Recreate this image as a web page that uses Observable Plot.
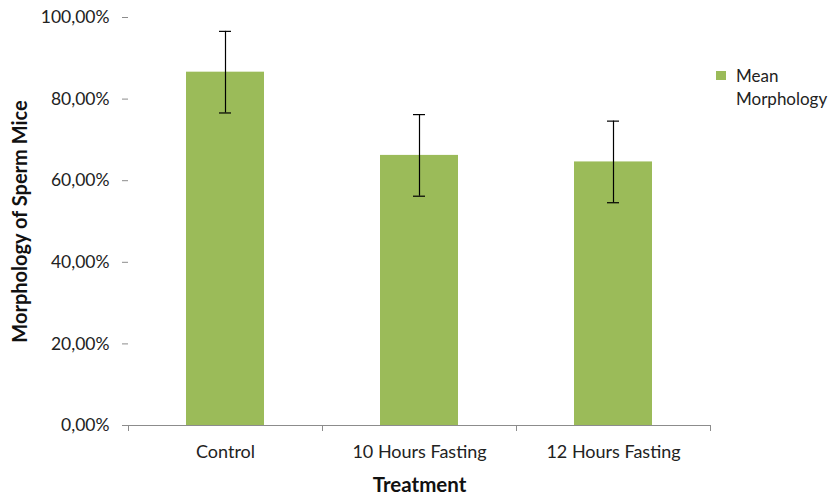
<!DOCTYPE html>
<html>
<head>
<meta charset="utf-8">
<script src="https://cdn.jsdelivr.net/npm/d3@7"></script>
<script src="https://cdn.jsdelivr.net/npm/@observablehq/plot@0.6"></script>
<style>
  body { margin: 0; background: #fff; }
  #wrap { position: relative; width: 836px; height: 495px; font-family: Lato, "Open Sans", sans-serif; }
  #legend { position: absolute; left: 716px; top: 64px; font-size: 17px; color: #222; line-height: 23px; }
  #legend .sw { display: inline-block; width: 10px; height: 9px; background: #9BBB59; margin-right: 10px; vertical-align: 2px; }
  #legend .l2 { padding-left: 20px; }
</style>
</head>
<body>
<div id="wrap"></div>
<script>
const categories = ["Control", "10 Hours Fasting", "12 Hours Fasting"];
const means = [86.6, 66.2, 64.6];
const errors = [10, 10, 10];
const yTicks = [0, 20, 40, 60, 80, 100];
const seriesName = "Mean Morphology";

const data = categories.map((c, i) => ({cat: c, mean: means[i], lo: means[i] - errors[i], hi: means[i] + errors[i]}));
const axisColor = "#8c8c8c";
const fmt = d => d.toFixed(2).replace(".", ",") + "%";

const chart = Plot.plot({
  width: 836,
  height: 495,
  marginLeft: 128,
  marginRight: 126,
  marginTop: 17,
  marginBottom: 70,
  style: {fontFamily: "Lato, 'Open Sans', sans-serif", fontSize: "17px", color: "#222", background: "#fff"},
  x: {domain: categories, paddingInner: 0.6, paddingOuter: 0.3},
  y: {domain: [0, 100]},
  marks: [
    Plot.barY(data, {x: "cat", y: "mean", fill: "#9BBB59"}),
    Plot.ruleX(data, {x: "cat", y1: "lo", y2: "hi", stroke: "#000", strokeWidth: 1.2}),
    Plot.tickY(data, {x: "cat", y: "hi", stroke: "#000", strokeWidth: 1.2, insetLeft: 33, insetRight: 33}),
    Plot.tickY(data, {x: "cat", y: "lo", stroke: "#000", strokeWidth: 1.2, insetLeft: 33, insetRight: 33}),
    Plot.ruleY([0], {stroke: axisColor}),
    Plot.ruleX([0], {x: () => 0, stroke: axisColor, frameAnchor: "left"}),
    Plot.axisY({ticks: yTicks, tickFormat: fmt, tickSize: 6, tickPadding: 13, stroke: axisColor, fill: "#222", label: null, fontSize: 17.5}),
    Plot.axisX({tickSize: 0, tickPadding: 20, label: null, fontSize: 18, fill: "#222"}),
    Plot.ruleX(categories, {x: d => d, dx: -97, y1: 0, y2: 0, insetBottom: -6, stroke: axisColor}),
    Plot.ruleX(categories.slice(-1), {x: d => d, dx: 97, y1: 0, y2: 0, insetBottom: -6, stroke: axisColor}),
    Plot.text(["Treatment"], {frameAnchor: "bottom", dy: 66, fontWeight: "bold", fontSize: 20.5, fill: "#111"}),
    Plot.text(["Morphology of Sperm Mice"], {frameAnchor: "left", dx: -108, rotate: -90, textAnchor: "middle", fontWeight: "bold", fontSize: 20, fill: "#111"})
  ]
});
const wrap = document.getElementById("wrap");
wrap.appendChild(chart);
const leg = document.createElement("div");
leg.id = "legend";
const words = seriesName.split(" ");
leg.innerHTML = `<div><span class="sw"></span>${words[0]}</div><div class="l2">${words.slice(1).join(" ")}</div>`;
wrap.appendChild(leg);
</script>
</body>
</html>
